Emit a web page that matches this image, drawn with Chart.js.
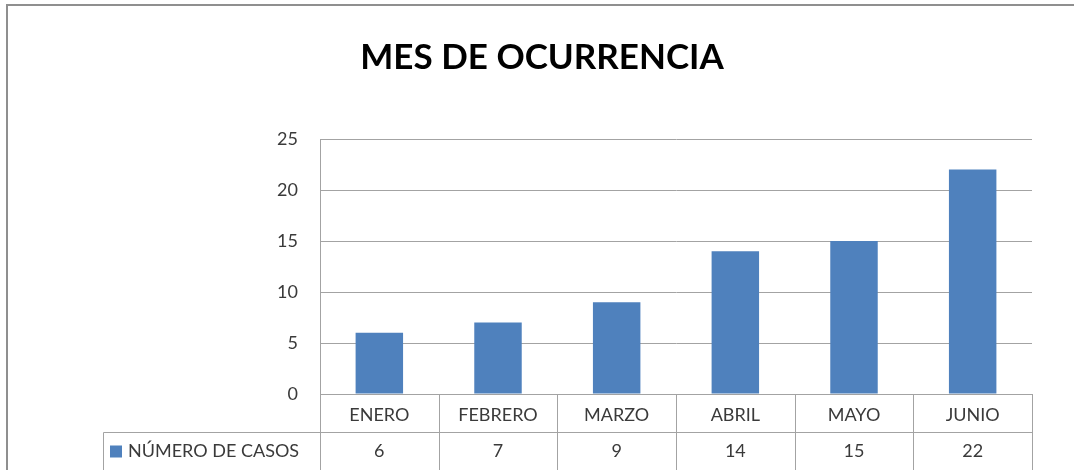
<!DOCTYPE html>
<html><head><meta charset="utf-8">
<script src="https://cdn.jsdelivr.net/npm/chart.js@4/dist/chart.umd.min.js"></script>
<style>html,body{margin:0;padding:0;background:#fff}#wrap{width:1074px;height:470px;position:relative}</style>
</head><body><div id="wrap"><canvas id="c" width="1074" height="470"></canvas></div>
<script>
const titleText = 'MES DE OCURRENCIA';
const categories = ['ENERO', 'FEBRERO', 'MARZO', 'ABRIL', 'MAYO', 'JUNIO'];
const seriesName = 'NÚMERO DE CASOS';
const casos = [6, 7, 9, 14, 15, 22];
const yMin = 0, yMax = 25, yStep = 5;

const barColor = '#4F81BD';
const gridColor = '#a3a3a3';
const textColor = '#3a3a3a';
const baseFont = 'Lato, "Open Sans", sans-serif';

const tablePlugin = {
  id: 'dataTable',
  afterDraw(chart) {
    const ctx = chart.ctx;
    const xs = chart.scales.x;
    const a = chart.chartArea;
    const H = chart.height;
    ctx.save();
    // outer frame
    ctx.strokeStyle = '#8f8f8f';
    ctx.lineWidth = 2;
    ctx.beginPath();
    ctx.moveTo(7, H); ctx.lineTo(7, 5); ctx.lineTo(chart.width, 5);
    ctx.stroke();
    // table grid
    const half = (xs.getPixelForValue(1) - xs.getPixelForValue(0)) / 2;
    const rowY = Math.round(a.bottom + 38) + 0.5;
    const tableLeft = 103.5;
    ctx.strokeStyle = gridColor;
    ctx.lineWidth = 1;
    ctx.beginPath();
    for (let i = 0; i <= categories.length; i++) {
      const bx = Math.round(xs.getPixelForValue(i) - half) + 0.5;
      ctx.moveTo(bx, a.bottom); ctx.lineTo(bx, H);
    }
    ctx.moveTo(tableLeft, rowY); ctx.lineTo(Math.round(a.right) + 0.5, rowY);
    ctx.moveTo(tableLeft, rowY); ctx.lineTo(tableLeft, H);
    ctx.stroke();
    // values row
    ctx.fillStyle = textColor;
    ctx.font = '18px ' + baseFont;
    ctx.textAlign = 'center';
    ctx.textBaseline = 'middle';
    const vy = rowY + 19;
    casos.forEach((v, i) => ctx.fillText(String(v), xs.getPixelForValue(i), vy));
    // legend key + series name
    ctx.fillStyle = barColor;
    ctx.fillRect(110, vy - 6, 12, 12);
    ctx.fillStyle = textColor;
    ctx.textAlign = 'left';
    ctx.fillText(seriesName, 128, vy);
    ctx.restore();
  }
};

new Chart(document.getElementById('c'), {
  type: 'bar',
  data: {
    labels: categories,
    datasets: [{
      label: seriesName,
      data: casos,
      backgroundColor: barColor,
      borderWidth: 0,
      categoryPercentage: 1,
      barPercentage: 0.4
    }]
  },
  options: {
    responsive: false,
    animation: false,
    devicePixelRatio: 1,
    layout: { padding: { left: 10, right: 0, top: 0, bottom: 0 } },
    plugins: {
      legend: { display: false },
      tooltip: { enabled: false },
      title: {
        display: true,
        text: titleText,
        color: '#000',
        font: { family: baseFont, size: 35, weight: 'bold', lineHeight: 1.2 },
        padding: { top: 37, bottom: 60 }
      }
    },
    scales: {
      x: {
        grid: { display: false, drawTicks: false },
        border: { display: false },
        ticks: { color: textColor, font: { family: baseFont, size: 18 }, padding: 10, maxRotation: 0 },
        afterFit(s) { s.height = 76; }
      },
      y: {
        min: yMin, max: yMax,
        grid: { color: gridColor, lineWidth: 1, drawTicks: false },
        border: { display: true, color: gridColor, width: 1 },
        ticks: { stepSize: yStep, color: textColor, font: { family: baseFont, size: 18 }, padding: 22 },
        afterFit(s) { s.width = 310; }
      },
      rightGap: {
        type: 'linear',
        position: 'right',
        display: true,
        grid: { display: false, drawTicks: false },
        border: { display: false },
        ticks: { display: false },
        afterFit(s) { s.width = 42; }
      }
    }
  },
  plugins: [tablePlugin]
});
</script>
</body></html>
